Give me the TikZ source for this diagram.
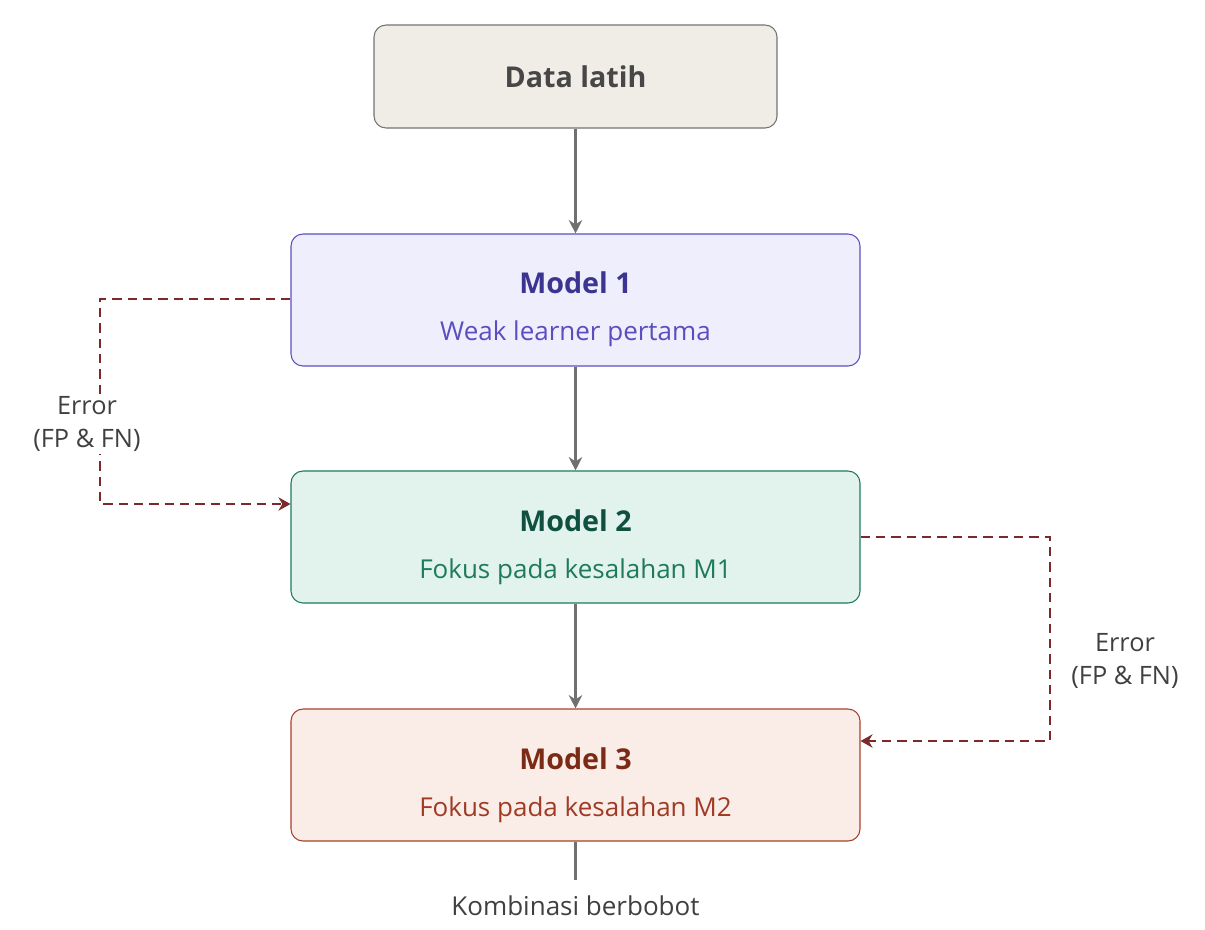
\documentclass[tikz,border=0pt]{standalone}
\usepackage{fontspec}
\setmainfont{Open Sans}
\usetikzlibrary{arrows.meta}
\definecolor{gline}{HTML}{707070}
\definecolor{dred}{HTML}{7A2A2A}
\definecolor{dfill}{HTML}{F0EDE6}
\definecolor{f1}{RGB}{238,238,252}\definecolor{s1}{RGB}{91,80,192}\definecolor{t1}{RGB}{59,52,144}\definecolor{u1}{RGB}{91,77,192}
\definecolor{f2}{RGB}{225,243,236}\definecolor{s2}{RGB}{30,122,90}\definecolor{t2}{RGB}{15,80,64}
\definecolor{f3}{RGB}{250,237,231}\definecolor{s3}{RGB}{168,65,42}\definecolor{t3}{RGB}{122,42,21}\definecolor{u3}{RGB}{160,58,37}
\begin{document}
\begin{tikzpicture}[x=0.75pt,y=-0.75pt,
 box/.style={rounded corners=9pt,minimum width=569*0.75pt,minimum height=132*0.75pt,line width=0.8pt,inner sep=0pt},
 ttl/.style={font=\fontsize{21.5}{26}\selectfont\bfseries},
 sub/.style={font=\fontsize{19.5}{23}\selectfont},
 arr/.style={draw=gline,line width=2.4pt,-{Stealth[length=10pt,width=10pt]}},
 err/.style={draw=dred,line width=2.2pt,dash pattern=on 7pt off 4.5pt,-{Stealth[length=9pt,width=10pt]}},
 lab/.style={font=\fontsize{19}{25}\selectfont,text=black!75,align=center,fill=white,inner sep=2pt}]
\useasboundingbox (0,0) rectangle (1205,929);
\node[box,minimum width=403*0.75pt,minimum height=103*0.75pt,fill=dfill,draw=black!55] (d) at (575.5,76.5) {};
\node[ttl,text=black!72] at (d) {Data latih};
\node[box,fill=f1,draw=s1] (m1) at (575.5,300) {};
\node[ttl,text=t1] at (575.5,283) {Model 1};
\node[sub,text=u1] at (575.5,334) {Weak learner pertama};
\node[box,fill=f2,draw=s2] (m2) at (575.5,537) {};
\node[ttl,text=t2] at (575.5,521) {Model 2};
\node[sub,text=s2] at (575.5,572) {Fokus pada kesalahan M1};
\node[box,fill=f3,draw=s3] (m3) at (575.5,775) {};
\node[ttl,text=t3] at (575.5,759) {Model 3};
\node[sub,text=u3] at (575.5,810) {Fokus pada kesalahan M2};
\node[sub,text=black!75] (k) at (575.5,906) {Kombinasi berbobot};
\coordinate (ke) at (575.5,880);
\draw[arr] (d) -- (m1);
\draw[arr] (m1) -- (m2);
\draw[arr] (m2) -- (m3);
\draw[gline,line width=2.4pt] (m3) -- (ke);
\draw[err] (m1.west|-0,299) -- (100,299) -- (100,504) -- (m2.west|-0,504);
\draw[err] (m2.east|-0,537) -- (1050,537) -- (1050,741) -- (m3.east|-0,741);
\node[lab] at (87,424) {Error\\(FP \& FN)};
\node[lab] at (1125,661) {Error\\(FP \& FN)};
\end{tikzpicture}
\end{document}
